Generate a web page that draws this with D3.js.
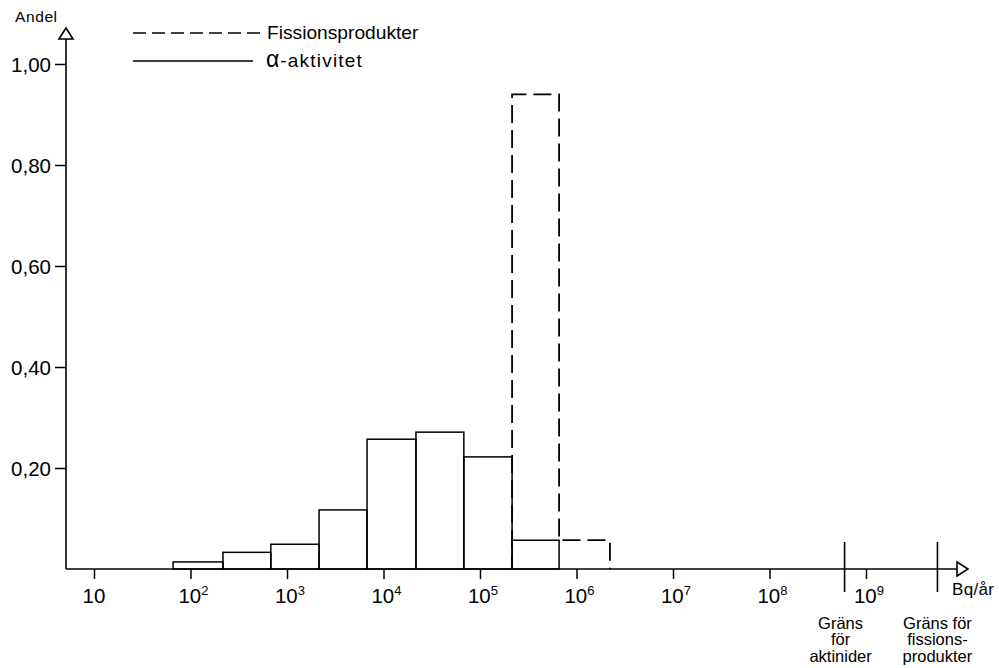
<!DOCTYPE html>
<html>
<head>
<meta charset="utf-8">
<script src="https://cdn.jsdelivr.net/npm/d3@7"></script>
<style>
  html, body { margin: 0; padding: 0; background: #fff; }
  svg { display: block; }
  text { font-family: "Liberation Sans", Arial, Helvetica, sans-serif; fill: #000; }
</style>
</head>
<body>
<svg id="chart" width="999" height="668"></svg>
<script>
// ---------- data ----------
const binEdges = [66, 217, 680, 2150, 6750, 21700, 68000, 215000, 660000, 2220000];
const alphaValues = [0.014, 0.033, 0.049, 0.117, 0.257, 0.271, 0.222, 0.057];   // α-aktivitet, one per bin
const fissionEdges = [215000, 660000, 2220000];
const fissionValues = [0.94, 0.057];                                            // Fissionsprodukter
const yTicks = [0.2, 0.4, 0.6, 0.8, 1.0];
const xTickExponents = [1, 2, 3, 4, 5, 6, 7, 8, 9];
const limitValues = [6e8, 5.5e9];
const limitLabels = [["Gräns", "för", "aktinider"], ["Gräns för", "fissions-", "produkter"]];
const legendLabels = ["Fissionsprodukter", "-aktivitet"];

// ---------- scales ----------
const svg = d3.select("#chart");
const x = d3.scaleLog().domain([10, 1e9]).range([94, 866]);
const y = d3.scaleLinear().domain([0, 1]).range([569, 64]);
const axisLeftX = 66, axisRightX = 968, axisTopY = 28;
const stroke = "#000";

// ---------- axes ----------
const yAxis = d3.axisLeft(y).tickValues(yTicks).tickSize(11).tickPadding(4)
  .tickFormat(d => d3.format(".2f")(d).replace(".", ","));
const gy = svg.append("g").attr("transform", `translate(${axisLeftX},0)`).call(yAxis);
gy.select(".domain").remove();
gy.selectAll(".tick line").attr("stroke", stroke).attr("stroke-width", 1.5);
gy.selectAll(".tick text").style("font-size", "20.5px").attr("dy", "0.35em").attr("fill", "#000");

const xAxis = d3.axisBottom(x).tickValues(xTickExponents.map(e => Math.pow(10, e))).tickSize(10).tickFormat("");
const gx = svg.append("g").attr("transform", `translate(0,${y(0)})`).call(xAxis);
gx.select(".domain").remove();
gx.selectAll(".tick line").attr("stroke", stroke).attr("stroke-width", 1.5);

// x tick labels with superscripts
const xl = svg.append("g").selectAll("text").data(xTickExponents).join("text")
  .attr("x", d => x(Math.pow(10, d)) + (d === 1 ? 0 : 3))
  .attr("y", 603)
  .attr("text-anchor", "middle")
  .style("font-size", "20.5px");
xl.append("tspan").text("10");
xl.filter(d => d > 1).append("tspan").attr("dy", -8).style("font-size", "13px").text(d => d);

// axis lines with open arrow heads
svg.append("line").attr("x1", axisLeftX).attr("x2", axisLeftX).attr("y1", y(0)).attr("y2", axisTopY + 11)
  .attr("stroke", stroke).attr("stroke-width", 1.6);
svg.append("path").attr("d", `M${axisLeftX - 7},${axisTopY + 11} L${axisLeftX},${axisTopY} L${axisLeftX + 7},${axisTopY + 11} Z`)
  .attr("fill", "#fff").attr("stroke", stroke).attr("stroke-width", 1.6);
svg.append("line").attr("x1", axisLeftX).attr("x2", axisRightX - 11).attr("y1", y(0)).attr("y2", y(0))
  .attr("stroke", stroke).attr("stroke-width", 1.6);
svg.append("path").attr("d", `M${axisRightX - 11},${y(0) - 7} L${axisRightX},${y(0)} L${axisRightX - 11},${y(0) + 7} Z`)
  .attr("fill", "#fff").attr("stroke", stroke).attr("stroke-width", 1.6);

// ---------- alpha bars ----------
svg.append("g").selectAll("rect").data(alphaValues).join("rect")
  .attr("x", (d, i) => x(binEdges[i]))
  .attr("width", (d, i) => x(binEdges[i + 1]) - x(binEdges[i]))
  .attr("y", d => y(d))
  .attr("height", d => y(0) - y(d))
  .attr("fill", "none").attr("stroke", stroke).attr("stroke-width", 1.5);

// ---------- fission histogram (dashed outline) ----------
const fPts = [[x(fissionEdges[0]), y(0)]];
fissionValues.forEach((v, i) => {
  fPts.push([x(fissionEdges[i]), y(v)]);
  fPts.push([x(fissionEdges[i + 1]), y(v)]);
});
fPts.push([x(fissionEdges[fissionEdges.length - 1]), y(0)]);
svg.append("path").attr("d", d3.line()(fPts))
  .attr("fill", "none").attr("stroke", stroke).attr("stroke-width", 1.8)
  .attr("stroke-dasharray", "18,7").attr("stroke-dashoffset", 4);

// ---------- limit lines ----------
limitValues.forEach((v, i) => {
  const lx = x(v);
  svg.append("line").attr("x1", lx).attr("x2", lx).attr("y1", 542).attr("y2", 592)
    .attr("stroke", stroke).attr("stroke-width", 1.6);
  const t = svg.append("text").attr("text-anchor", "middle").style("font-size", "16.5px");
  limitLabels[i].forEach((s, j) => {
    t.append("tspan").attr("x", lx - (i === 0 ? 4 : 0)).attr("y", 629 + j * 16.3).text(s);
  });
});

svg.append("text").attr("x", 952).attr("y", 595).style("font-size", "17px").style("letter-spacing", "0.3px").text("Bq/år");
svg.append("text").attr("x", 15).attr("y", 22).style("font-size", "15.5px").style("letter-spacing", "0.6px").text("Andel");

// ---------- legend ----------
svg.append("line").attr("x1", 133).attr("x2", 265).attr("y1", 33).attr("y2", 33)
  .attr("stroke", stroke).attr("stroke-width", 1.5).attr("stroke-dasharray", "13,6");
svg.append("text").attr("x", 267).attr("y", 39).style("font-size", "19.2px").text(legendLabels[0]);
svg.append("line").attr("x1", 133).attr("x2", 253).attr("y1", 61).attr("y2", 61)
  .attr("stroke", stroke).attr("stroke-width", 1.3);
const lt = svg.append("text").attr("x", 266).attr("y", 67);
lt.append("tspan").style("font-size", "23px").style("letter-spacing", "1px").text("α");
lt.append("tspan").style("font-size", "19px").style("letter-spacing", "1.2px").text(legendLabels[1]);
</script>
</body>
</html>
